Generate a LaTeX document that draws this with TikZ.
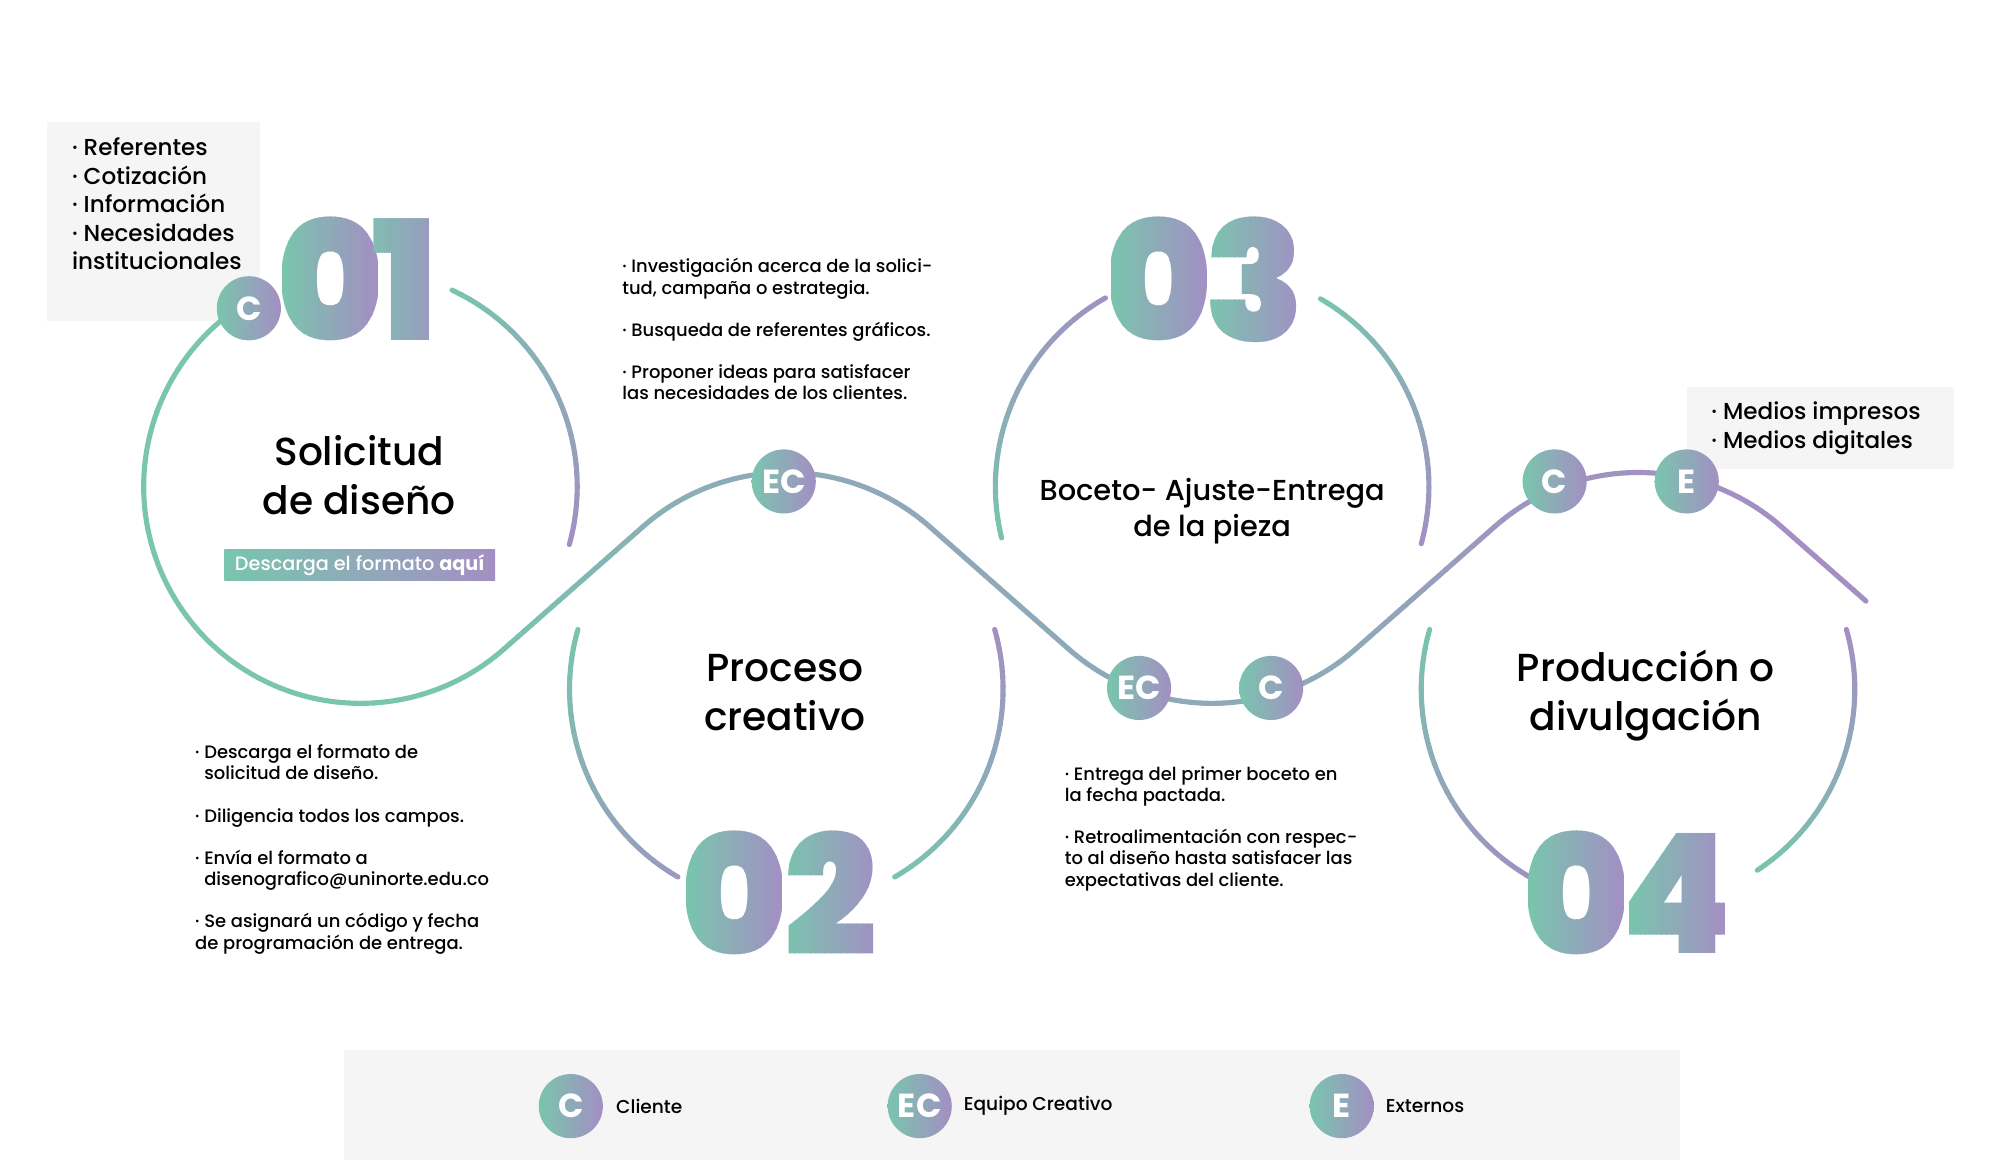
\documentclass[tikz,border=0pt]{standalone}
\usepackage{fontspec}
\setmainfont{Poppins}[UprightFont=* Medium, BoldFont=* Bold]
\newfontfamily\numfont{Poppins Black}[FakeStretch=0.98]
\usetikzlibrary{calc,positioning}

\definecolor{verde}{RGB}{121,197,174}
\definecolor{lila}{RGB}{163,143,195}
\definecolor{gris}{RGB}{245,245,245}

% arc with colour going from verde to lila (percent of lila)
\newcommand{\garco}[6]{%
  \foreach \k in {1,...,30}{%
    \pgfmathsetmacro{\angA}{#3+(#4-#3)*(\k-1)/30}%
    \pgfmathsetmacro{\angB}{#3+(#4-#3)*\k/30}%
    \pgfmathtruncatemacro{\mezcla}{#5+(#6-#5)*(\k-0.5)/30}%
    \draw[trazo, draw=lila!\mezcla!verde] ($(#1)+(\angA:#2)$) arc[start angle=\angA, end angle=\angB, radius=#2];
  }}
% straight piece, same idea
\newcommand{\glinea}[4]{%
  \foreach \k in {1,...,20}{%
    \pgfmathsetmacro{\tA}{(\k-1)/20}%
    \pgfmathsetmacro{\tB}{\k/20}%
    \pgfmathtruncatemacro{\mezcla}{#3+(#4-#3)*(\k-0.5)/20}%
    \draw[trazo, draw=lila!\mezcla!verde] ($(#1)!\tA!(#2)$) -- ($(#1)!\tB!(#2)$);
  }}
% big digit, filled in vertical strips
\newcommand{\gdigito}[3]{%
  \foreach \k in {1,...,18}{%
    \pgfmathtruncatemacro{\mezcla}{100*(\k-0.5)/18}%
    \begin{scope}
      \clip ({#1-37+74*(\k-1)/18}, {#2-60}) rectangle ({#1-37+74*\k/18}, {#2+60});
      \node[numero, text=lila!\mezcla!verde] at (#1,#2) {#3};
    \end{scope}
  }}

\begin{document}
\begin{tikzpicture}[x=1pt, y=1pt,
    trazo/.style={line width=4, line cap=round},
    insignia/.style={circle, minimum size=50, inner sep=0, left color=verde, right color=lila,
      text=white, font=\fontsize{26}{26}\selectfont\bfseries},
    numero/.style={inner sep=0, font=\numfont\fontsize{130}{130}\selectfont},
    titulo/.style={align=center, font=\fontsize{30.5}{38}\selectfont},
    nota/.style={align=left, inner sep=0, anchor=north west, font=\fontsize{14}{16.5}\selectfont},
    lista/.style={align=left, inner sep=0, anchor=north west, font=\fontsize{18}{22.2}\selectfont},
    leyenda/.style={font=\fontsize{14.5}{16}\selectfont, inner sep=0}]

\useasboundingbox (0,0) rectangle (1560,904.35);

% grey boxes
\fill[gris] (37,654) rectangle (203,809);
\fill[gris] (1315,539) rectangle (1523,603);
\fill[gris] (268,0) rectangle (1310,86);

% circle centres
\coordinate (c1) at (281,525);
\coordinate (c2) at (613,367);
\coordinate (c3) at (945,525);
\coordinate (c4) at (1277,367);

% tangent points of the wave
\coordinate (t1) at ($(c1)+(-48.65:169)$);
\coordinate (t2) at ($(c2)+(131.35:169)$);
\coordinate (t3) at ($(c2)+(48.65:169)$);
\coordinate (t4) at ($(c3)+(228.65:169)$);
\coordinate (t5) at ($(c3)+(311.35:169)$);
\coordinate (t6) at ($(c4)+(131.35:169)$);
\coordinate (t7) at ($(c4)+(48.65:169)$);
\coordinate (fin) at ($(t7)+(-41.35:88)$);

% the wave
\garco{c1}{169}{122}{311.35}{0}{0}
\glinea{t1}{t2}{0}{40}
\garco{c2}{169}{131.35}{48.65}{40}{55}
\glinea{t3}{t4}{55}{50}
\garco{c3}{169}{228.65}{311.35}{50}{50}
\glinea{t5}{t6}{50}{85}
\garco{c4}{169}{131.35}{48.65}{85}{100}
\glinea{t7}{fin}{100}{100}

% the other arcs
\garco{c1}{169}{65}{-15.5}{0}{100}
\garco{c2}{169}{164}{240}{0}{80}
\garco{c2}{169}{16}{-60}{100}{0}
\garco{c3}{169}{119.5}{193.7}{100}{0}
\garco{c3}{169}{60}{-15.3}{0}{100}
\garco{c4}{169}{164}{241.7}{0}{100}
\garco{c4}{169}{16}{-56.6}{100}{0}

% numbers
\gdigito{257.5}{686.5}{0}
\gdigito{316}{686.5}{1}
\gdigito{572.5}{208}{0}
\gdigito{648}{208}{2}
\gdigito{903.5}{686.5}{0}
\gdigito{978.5}{686.5}{3}
\gdigito{1229}{208}{0}
\gdigito{1307.5}{208}{4}

% badges on the wave
\node[insignia] (b1) at (194,664) {C};
\node[insignia] (b2) at (611,529) {EC};
\node[insignia] (b3) at (888,368) {EC};
\node[insignia] (b4) at (991,368) {C};
\node[insignia] (b5) at (1212,529) {C};
\node[insignia] (b6) at (1315,529) {E};

% titles
\node[titulo] (sol) at (280,534) {Solicitud\\de diseño};
\node[left color=verde, right color=lila, text=white, minimum width=211, minimum height=24,
  inner sep=0, font=\fontsize{15}{16}\selectfont] (desc) at (280.5,464) {Descarga el formato \textbf{aquí}};
\node[titulo] (pro) at (612,364.5) {Proceso\\creativo};
\node[titulo, font=\fontsize{22.5}{28}\selectfont] (boc) at (945,506) {Boceto- Ajuste-Entrega\\de la pieza};
\node[titulo] (prod) at (1283,362) {Producción o\\divulgación};

% lists
\node[lista] (ref) at (56,797) {· Referentes\\· Cotización\\· Información\\· Necesidades\\institucionales};
\node[lista] (med) at (1334,591) {· Medios impresos\\· Medios digitales};

% notes
\node[nota] (n1) at (152,324) {· Descarga el formato de\\\phantom{· }solicitud de diseño.\\[16.5pt]
  · Diligencia todos los campos.\\[16.5pt]
  · Envía el formato a\\\phantom{· }disenografico@uninorte.edu.co\\[16.5pt]
  · Se asignará un código y fecha\\de programación de entrega.};
\node[nota] (n2) at (485,703) {· Investigación acerca de la solici-\\tud, campaña o estrategia.\\[16.5pt]
  · Busqueda de referentes gráficos.\\[16.5pt]
  · Proponer ideas para satisfacer\\las necesidades de los clientes.};
\node[nota] (n3) at (830,307) {· Entrega del primer boceto en\\la fecha pactada.\\[16.5pt]
  · Retroalimentación con respec-\\to al diseño hasta satisfacer las\\expectativas del cliente.};

% legend
\node[insignia] (l1) at (445,42) {C};
\node[insignia] (l2) at (717,42) {EC};
\node[insignia] (l3) at (1046,42) {E};
\node[leyenda, right=10pt of l1] (cli) {Cliente};
\node[leyenda, right=9pt of l2] (equ) {Equipo Creativo};
\node[leyenda, right=9pt of l3] (ext) {Externos};
\end{tikzpicture}
\end{document}
